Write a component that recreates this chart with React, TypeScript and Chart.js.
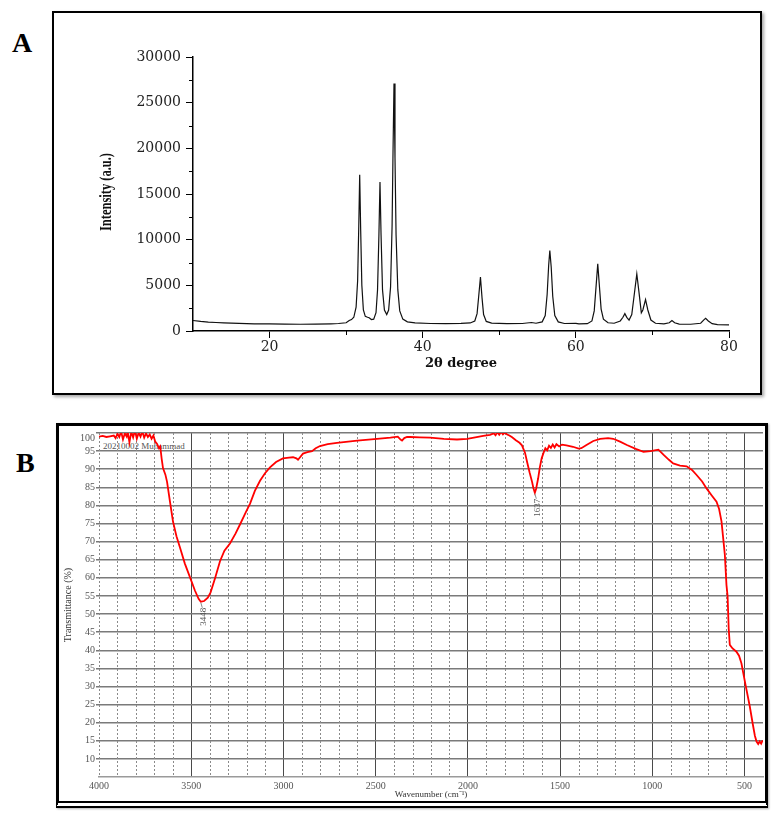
import React, { useEffect, useRef } from 'react';
import { Chart, registerables } from 'chart.js';

Chart.register(...registerables);

// ---------- Panel A: XRD ----------
const xrdAngle = [
  10, 11, 12, 13, 14, 15, 16, 17, 18, 19, 20, 22, 24, 26, 28, 29, 30, 30.4, 30.7, 31.0,
  31.3, 31.5, 31.65, 31.77, 31.9, 32.05, 32.25, 32.5, 32.8, 33.0, 33.3, 33.6, 33.9, 34.1,
  34.28, 34.42, 34.56, 34.75, 35.0, 35.3, 35.55, 35.8, 36.0, 36.12, 36.25, 36.38, 36.52,
  36.75, 37.0, 37.4, 38, 39, 41, 43, 45, 46.2, 46.8, 47.1, 47.3, 47.54, 47.75, 47.95, 48.3,
  49, 51, 53, 54.2, 54.8, 55.6, 56.0, 56.25, 56.45, 56.6, 56.78, 56.98, 57.25, 57.7, 58.5,
  60, 60.4, 61.5, 62.1, 62.4, 62.65, 62.86, 63.05, 63.3, 63.6, 64.2, 65.0, 65.8, 66.15,
  66.4, 66.65, 66.95, 67.3, 67.6, 67.96, 68.25, 68.55, 68.75, 69.1, 69.4, 69.8, 70.4,
  71.5, 72.2, 72.55, 72.9, 73.5, 75, 76.3, 76.75, 76.95, 77.3, 77.8, 78.5, 80,
];
const xrdIntensity = [
  1150, 1050, 980, 930, 890, 860, 830, 810, 790, 780, 770, 750, 740, 760, 790, 820, 900, 1150, 1250, 1500,
  2600, 5500, 11500, 17100, 11000, 5000, 2300, 1600, 1500, 1450, 1250, 1300, 2000, 4500,
  10500, 16300, 10500, 4500, 2300, 1800, 2300, 4800, 11500, 19500, 27100, 19000, 10500,
  4500, 2200, 1300, 1000, 880, 820, 800, 830, 880, 1100, 1900, 3700, 5900, 3600, 1800, 1050,
  870, 800, 820, 930, 850, 1000, 1700, 4000, 7200, 8800, 7000, 3800, 1700, 1000, 820,
  840, 780, 800, 1100, 2200, 5000, 7350, 5200, 2400, 1300, 900, 850, 1100, 1500,
  1900, 1500, 1200, 1800, 3800, 6250, 4200, 2000, 2300, 3450, 2300, 1200, 850,
  780, 900, 1150, 900, 760, 740, 850, 1250, 1400, 1100, 800, 700, 680,
];
const xrdXTicks = [20, 40, 60, 80];
const xrdYTicks = [0, 5000, 10000, 15000, 20000, 25000, 30000];
const xrdXMinor = [30, 50, 70];
const xrdYMinor = [2500, 7500, 12500, 17500, 22500, 27500];

// ---------- Panel B: FTIR ----------
const ftirWavenumber = [
  4000, 3980, 3960, 3940, 3920, 3910, 3900, 3890, 3880, 3870, 3860, 3850, 3845, 3835, 3825,
  3815, 3805, 3795, 3785, 3775, 3765, 3755, 3745, 3735, 3725, 3715, 3705, 3695, 3685, 3675,
  3668, 3660, 3653, 3640, 3631, 3615, 3599, 3580, 3561, 3535, 3507, 3480, 3460, 3448, 3430,
  3410, 3395, 3370, 3344, 3320, 3290, 3260, 3235, 3205, 3181, 3155, 3127, 3100, 3073, 3040,
  3003, 2970, 2948, 2930, 2921, 2910, 2894, 2870, 2845, 2825, 2802, 2760, 2710, 2600, 2493,
  2420, 2380, 2365, 2357, 2345, 2330, 2313, 2260, 2205, 2130, 2059, 2004, 1960, 1917, 1880,
  1860, 1850, 1841, 1830, 1820, 1810, 1800, 1787, 1775, 1760, 1740, 1720, 1707, 1690, 1679,
  1665, 1652, 1645, 1637, 1630, 1619, 1610, 1600, 1590, 1580, 1570, 1560, 1550, 1540, 1530,
  1520, 1505, 1490, 1466, 1430, 1400, 1385, 1357, 1320, 1283, 1240, 1212, 1175, 1138, 1090,
  1048, 1010, 967, 940, 910, 887, 850, 814, 785, 760, 730, 706, 680, 652, 638,
  625, 607, 598, 592, 586, 580, 565, 544, 530, 517, 495, 472, 455, 444, 435,
  426, 418, 410, 404, 400,
];
const ftirTransmittance = [
  99.0, 99.2, 98.9, 99.1, 99.3, 98.6, 99.8, 98.9, 100.4, 98.2, 99.9, 99.0, 100.6, 97.4, 100.3,
  98.8, 100.7, 98.4, 100.1, 99.0, 100.4, 98.7, 99.9, 98.9, 99.6, 98.4, 99.3, 97.6, 97.0, 95.8,
  96.3, 92.8, 90.3, 88.5, 86.5, 81.0, 75.6, 71.5, 68.4, 64.0, 60.2, 56.5, 54.2, 53.4, 53.6,
  54.5, 56.0, 60.0, 64.6, 67.5, 69.5, 72.2, 74.8, 78.0, 80.5, 84.0, 86.8, 88.9, 90.5, 92.0,
  93.0, 93.2, 93.3, 93.0, 92.6, 93.3, 94.3, 94.7, 95.0, 95.8, 96.4, 96.9, 97.3, 97.9, 98.4,
  98.7, 99.0, 98.2, 97.9, 98.6, 98.9, 98.9, 98.8, 98.7, 98.4, 98.2, 98.4, 98.8, 99.2, 99.5,
  99.9, 99.4, 100.2, 99.5, 100.3, 99.6, 100.1, 99.6, 99.3, 98.8, 98.0, 97.3, 96.6, 94.5, 92.0,
  89.0, 86.5, 84.8, 83.5, 84.6, 87.5, 90.5, 93.0, 94.5, 95.8, 95.2, 96.5, 95.9, 96.8, 96.0,
  96.9, 96.3, 96.8, 96.6, 96.2, 95.7, 95.8, 96.7, 97.8, 98.4, 98.6, 98.4, 97.6, 96.7, 95.6,
  94.8, 95.0, 95.4, 94.0, 92.6, 91.6, 91.0, 90.8, 89.8, 88.4, 86.6, 84.7, 82.9, 81.0, 79.0,
  75.6, 66.5, 58.0, 55.0, 46.0, 41.5, 40.5, 39.6, 38.5, 36.4, 30.5, 24.6, 19.5, 16.4, 14.8,
  14.1, 14.8, 14.2, 14.9, 15.0,
];
const ftirXTicks = [4000, 3500, 3000, 2500, 2000, 1500, 1000, 500];
const ftirYTicks = [10, 15, 20, 25, 30, 35, 40, 45, 50, 55, 60, 65, 70, 75, 80, 85, 90, 95, 100];
const ftirPeakWavenumber = [3448, 1637];
const ftirPeakTransmittance = [53.4, 83.5];
const ftirPeakLabels = ['3448', '1637'];

function XrdChart() {
  const ref = useRef<HTMLCanvasElement>(null);
  useEffect(() => {
    const canvas = ref.current!;
    const extras = {
      id: 'xrdExtras',
      afterDraw(chart: any) {
        const { ctx, chartArea, scales } = chart;
        const x = scales.x, y = scales.y;
        ctx.save();
        ctx.strokeStyle = '#000';
        ctx.lineWidth = 1;
        for (const v of xrdYMinor) {
          const py = Math.round(y.getPixelForValue(v)) + 0.5;
          ctx.beginPath();
          ctx.moveTo(chartArea.left - 4, py);
          ctx.lineTo(chartArea.left, py);
          ctx.stroke();
        }
        for (const v of xrdXMinor) {
          const px = Math.round(x.getPixelForValue(v)) + 0.5;
          ctx.beginPath();
          ctx.moveTo(px, chartArea.bottom);
          ctx.lineTo(px, chartArea.bottom + 4);
          ctx.stroke();
        }
        // condensed y-axis title
        ctx.translate(chartArea.left - 86, (chartArea.top + chartArea.bottom) / 2 - 2);
        ctx.rotate(-Math.PI / 2);
        ctx.scale(0.78, 1);
        ctx.fillStyle = '#111';
        ctx.font = 'bold 16px "Liberation Serif"';
        ctx.textAlign = 'center';
        ctx.textBaseline = 'middle';
        ctx.fillText('Intensity (a.u.)', 0, 0);
        ctx.restore();
      },
    };
    const chart = new Chart(canvas, {
      type: 'line',
      data: {
        datasets: [
          {
            data: xrdAngle.map((a, i) => ({ x: a, y: xrdIntensity[i] })),
            borderColor: '#111',
            borderWidth: 1.2,
            pointRadius: 0,
            tension: 0,
            fill: false,
          },
        ],
      },
      options: {
        responsive: false,
        animation: false,
        layout: { padding: { top: 44, right: 31, left: 0, bottom: 0 } },
        plugins: { legend: { display: false }, tooltip: { enabled: false } },
        scales: {
          x: {
            type: 'linear',
            min: 10,
            max: 80,
            afterBuildTicks: (s: any) => { s.ticks = xrdXTicks.map((v) => ({ value: v })); },
            afterFit: (s: any) => { s.height = 62; },
            grid: { display: true, drawOnChartArea: false, drawTicks: true, tickLength: 7, tickColor: '#000', tickWidth: 1 },
            border: { display: true, color: '#000', width: 1.5 },
            ticks: {
              autoSkip: false,
              maxRotation: 0,
              padding: 1,
              color: '#222',
              font: { family: '"DejaVu Serif"', size: 14 },
              callback: (v: any) => String(v),
            },
            title: {
              display: true,
              text: '2θ degree',
              color: '#111',
              font: { family: '"DejaVu Serif"', size: 13, weight: 'bold' },
              padding: { top: 0, bottom: 22 },
            },
          },
          y: {
            type: 'linear',
            min: 0,
            max: 30000,
            afterBuildTicks: (s: any) => { s.ticks = xrdYTicks.map((v) => ({ value: v })); },
            afterFit: (s: any) => { s.width = 139; },
            grid: { display: true, drawOnChartArea: false, drawTicks: true, tickLength: 7, tickColor: '#000', tickWidth: 1 },
            border: { display: true, color: '#000', width: 1.5 },
            ticks: {
              autoSkip: false,
              padding: 5,
              color: '#222',
              font: { family: '"DejaVu Serif"', size: 14 },
              callback: (v: any) => String(v),
            },
          },
        },
      },
      plugins: [extras],
    } as any);
    return () => chart.destroy();
  }, []);
  return (
    <canvas
      ref={ref}
      width={706}
      height={380}
      style={{ position: 'absolute', left: 54, top: 13, width: 706, height: 380 }}
    />
  );
}

function FtirChart() {
  const ref = useRef<HTMLCanvasElement>(null);
  useEffect(() => {
    const canvas = ref.current!;
    const extras = {
      id: 'ftirExtras',
      beforeDatasetsDraw(chart: any) {
        const { ctx, chartArea, scales } = chart;
        const x = scales.x;
        ctx.save();
        ctx.strokeStyle = '#8a8a8a';
        ctx.lineWidth = 1;
        ctx.setLineDash([2, 2]);
        for (let v = 4000; v > 400; v -= 100) {
          if (v % 500 === 0 && v !== 4000) continue;
          const px = Math.round(x.getPixelForValue(v)) + 0.5;
          ctx.beginPath();
          ctx.moveTo(px, chartArea.top);
          ctx.lineTo(px, chartArea.bottom);
          ctx.stroke();
        }
        ctx.restore();
      },
      afterDatasetsDraw(chart: any) {
        const { ctx, scales } = chart;
        const x = scales.x, y = scales.y;
        ctx.save();
        ctx.fillStyle = '#555';
        ctx.strokeStyle = '#888';
        ctx.lineWidth = 1;
        ctx.font = '9px "Liberation Serif"';
        ftirPeakWavenumber.forEach((wn, i) => {
          const px = x.getPixelForValue(wn);
          const py = y.getPixelForValue(ftirPeakTransmittance[i]);
          ctx.beginPath();
          ctx.moveTo(px, py + 1);
          ctx.lineTo(px + 1.5, py + 6);
          ctx.stroke();
          ctx.save();
          ctx.translate(px + 3, py + 6);
          ctx.rotate(-Math.PI / 2);
          ctx.textAlign = 'right';
          ctx.textBaseline = 'middle';
          ctx.fillText(ftirPeakLabels[i], 0, 0);
          ctx.restore();
        });
        ctx.restore();
      },
      afterDraw(chart: any) {
        const { ctx, chartArea } = chart;
        ctx.save();
        ctx.fillStyle = '#555';
        ctx.font = '10px "Liberation Serif"';
        ctx.textAlign = 'right';
        ctx.textBaseline = 'middle';
        ctx.fillText(String(ftirYTicks[ftirYTicks.length - 1]), chartArea.left - 4, chartArea.top + 5);
        ctx.restore();
      },
    };
    const chart = new Chart(canvas, {
      type: 'line',
      data: {
        datasets: [
          {
            data: ftirWavenumber.map((w, i) => ({ x: w, y: ftirTransmittance[i] })),
            borderColor: '#ff0000',
            borderWidth: 1.8,
            pointRadius: 0,
            tension: 0,
            fill: false,
          },
        ],
      },
      options: {
        responsive: false,
        animation: false,
        layout: { padding: { top: 1, right: 2, left: 0, bottom: 0 } },
        plugins: { legend: { display: false }, tooltip: { enabled: false } },
        scales: {
          x: {
            type: 'linear',
            reverse: true,
            min: 400,
            max: 4000,
            afterBuildTicks: (s: any) => { s.ticks = ftirXTicks.map((v) => ({ value: v })); },
            afterFit: (s: any) => { s.height = 24; },
            grid: {
              display: true,
              drawTicks: false,
              lineWidth: 1,
              color: (c: any) => (c.tick && c.tick.value === 4000 ? 'rgba(0,0,0,0)' : '#4a4a4a'),
            },
            border: { display: true, color: '#9a9a9a', width: 1.5 },
            ticks: {
              autoSkip: false,
              maxRotation: 0,
              padding: 3,
              color: '#555',
              font: { family: '"Liberation Serif"', size: 10 },
              callback: (v: any) => String(v),
            },
            title: {
              display: true,
              text: 'Wavenumber (cm⁻¹)',
              color: '#333',
              font: { family: '"Liberation Serif"', size: 9 },
              padding: { top: 0, bottom: 1 },
            },
          },
          y: {
            type: 'linear',
            min: 5,
            max: 100,
            afterBuildTicks: (s: any) => { s.ticks = ftirYTicks.map((v) => ({ value: v })); },
            afterFit: (s: any) => { s.width = 40; },
            grid: {
              display: true,
              drawTicks: true,
              tickLength: 3,
              tickColor: '#777',
              lineWidth: 1.5,
              color: '#7a7a7a',
            },
            border: { display: false },
            ticks: {
              autoSkip: false,
              padding: 1,
              color: '#555',
              font: { family: '"Liberation Serif"', size: 10 },
              callback: (v: any) => (v === 100 ? '' : String(v)),
            },
            title: {
              display: true,
              text: 'Transmittance (%)',
              color: '#333',
              font: { family: '"Liberation Serif"', size: 10 },
              padding: { top: 3, bottom: 0 },
            },
          },
        },
      },
      plugins: [extras],
    } as any);
    return () => chart.destroy();
  }, []);
  return (
    <canvas
      ref={ref}
      width={706}
      height={375}
      style={{ position: 'absolute', left: 59, top: 426, width: 706, height: 375 }}
    />
  );
}

export default function App() {
  const letter: React.CSSProperties = {
    position: 'absolute',
    fontFamily: '"Liberation Serif", serif',
    fontWeight: 'bold',
    fontSize: 28,
    lineHeight: '28px',
    color: '#000',
  };
  return (
    <div style={{ position: 'absolute', left: 0, top: 0, width: 778, height: 820, background: '#fff', overflow: 'hidden' }}>
      <div style={{ ...letter, left: 12, top: 29 }}>A</div>
      <div
        style={{
          position: 'absolute',
          left: 52,
          top: 11,
          width: 710,
          height: 384,
          border: '2px solid #000',
          boxSizing: 'border-box',
          boxShadow: '2px 2px 3px rgba(0,0,0,0.35)',
        }}
      />
      <XrdChart />
      <div style={{ ...letter, left: 16, top: 449 }}>B</div>
      <div
        style={{
          position: 'absolute',
          left: 56,
          top: 423,
          width: 712,
          height: 385,
          borderTop: '3px solid #000',
          borderLeft: '3px solid #000',
          borderRight: '3px solid #000',
          borderBottom: '7px double #000',
          boxSizing: 'border-box',
          boxShadow: '1px 1px 2px rgba(0,0,0,0.3)',
        }}
      />
      <div
        style={{
          position: 'absolute',
          left: 103,
          top: 441,
          fontFamily: '"Liberation Serif", serif',
          fontSize: 9,
          lineHeight: '10px',
          color: '#555',
          whiteSpace: 'nowrap',
        }}
      >
        20210002 Muhammad
      </div>
      <FtirChart />
    </div>
  );
}
